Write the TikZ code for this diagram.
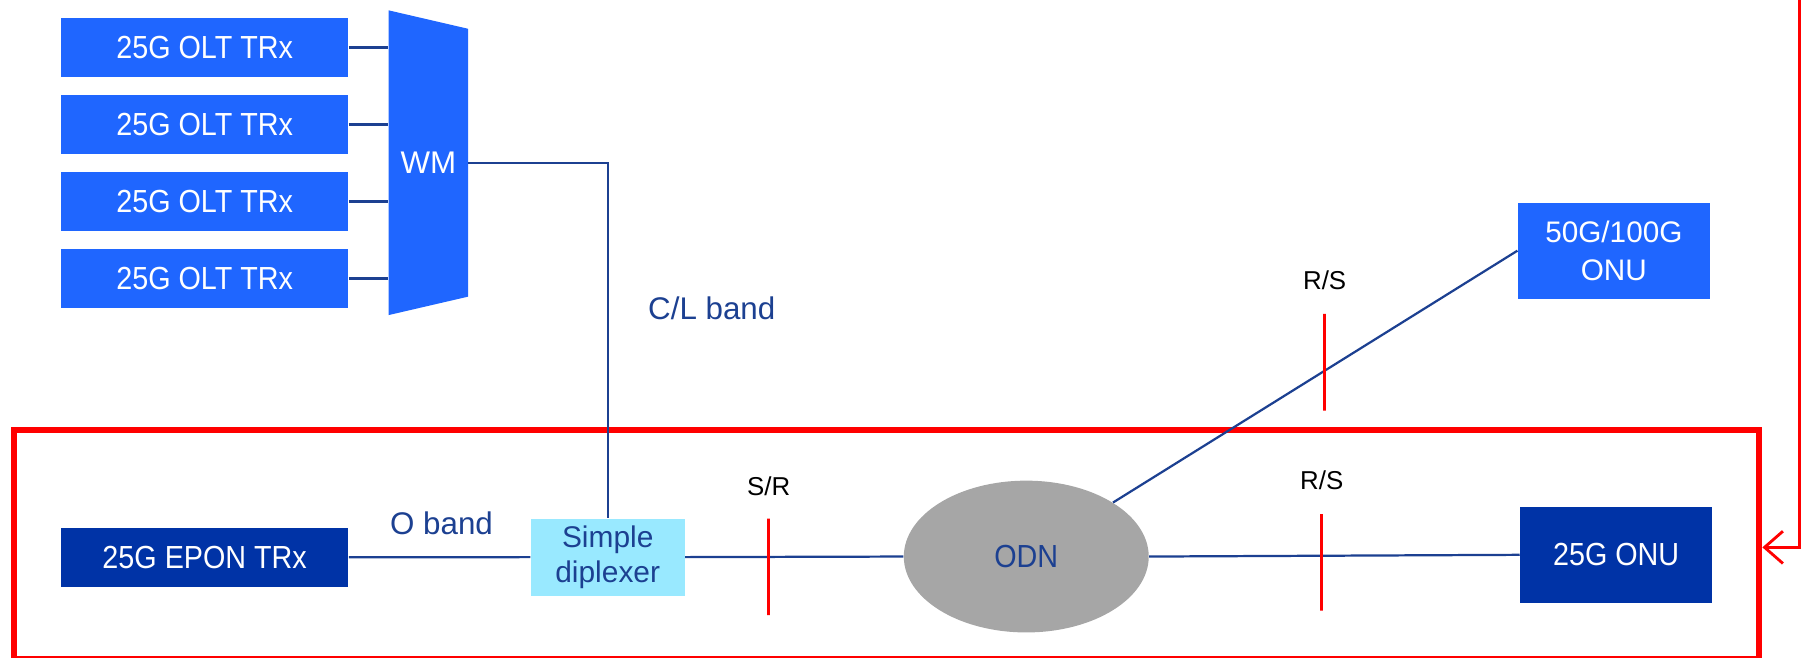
\documentclass[tikz,border=0pt]{standalone}
\usepackage{fontspec}
\setmainfont{Liberation Sans}
\newfontfamily\narrowsans[FakeStretch=0.9]{Liberation Sans}
\usepackage{xcolor}
\usetikzlibrary{positioning,shapes.geometric,arrows.meta}

\definecolor{oltblue}{RGB}{31,102,255}
\definecolor{onunavy}{RGB}{0,51,166}
\definecolor{diplexcyan}{RGB}{153,233,255}
\definecolor{odngray}{RGB}{166,166,166}
\definecolor{fiberblue}{RGB}{28,64,145}

\begin{document}
\begin{tikzpicture}[x=0.2mm, y=-0.2mm,
    bigtext/.style={font=\fontsize{15.5}{18.6}\selectfont},
    narrowtext/.style={font=\narrowsans\fontsize{15.8}{18.6}\selectfont},
    oltbox/.style={narrowtext, fill=oltblue, text=white, inner sep=0pt,
      minimum width=5cm, minimum height=1.03cm},
    navybox/.style={narrowtext, fill=onunavy, text=white, inner sep=0pt},
    fiber/.style={draw=fiberblue, line width=1.1pt},
    band/.style={bigtext, text=fiberblue},
    tick/.style={draw=red, line width=1.6pt, inner sep=0pt,
      minimum width=0pt, minimum height=1.68cm},
    refpoint/.style={font=\fontsize{12.8}{15}\selectfont, inner sep=0pt}]
  \useasboundingbox (0,0) rectangle (1568,572);

  % wavelength multiplexer
  \fill[oltblue] (338,9) -- (407,25) -- (407,258) -- (338,274) -- cycle;
  \node (wm) [bigtext, text=white, inner sep=0pt, minimum width=1.38cm,
    minimum height=5.3cm] at (372.5,141.5) {WM};

  % OLT transceivers
  \foreach \i/\y in {1/41.3,2/108.2,3/175.2,4/242.2} {
    \node (olt\i) [oltbox] at (178,\y) {25G OLT TRx};
    \draw[fiber] (olt\i.east) -- (olt\i.east -| wm.west);
  }

  % coexistence part
  \node (frame) [draw=red, line width=3pt, inner sep=0pt,
    minimum width=30.36cm, minimum height=3.98cm] at (771,473.5) {};
  \node (epon) [navybox, minimum width=5cm, minimum height=1.03cm] at (178,484.7) {25G EPON TRx};
  \node (dip) [fill=diplexcyan, text=fiberblue, inner sep=0pt, align=center,
    font=\fontsize{14.8}{17.6}\selectfont,
    minimum width=2.68cm, minimum height=1.34cm] at (528.5,484.5) {Simple\\diplexer};
  \node (odn) [ellipse, fill=odngray, text=fiberblue, narrowtext,
    minimum width=4.26cm, minimum height=2.64cm] at (892.5,484) {ODN};
  \node (onu25) [navybox, minimum width=3.34cm, minimum height=1.66cm] at (1405.5,482.5) {25G ONU};
  \node (onu50) [fill=oltblue, text=white, inner sep=0pt, align=center,
    font=\fontsize{14.7}{18.6}\selectfont,
    minimum width=3.34cm, minimum height=1.67cm] at (1403.5,218) {50G/100G\\ONU};

  % fibres
  \draw[fiber] (wm.east) -| (dip.north);
  \draw[fiber] (epon.east) -- (dip.west);
  \draw[fiber] (dip.east) -- (odn.west);
  \draw[fiber] (odn.east) -- (onu25.west);
  \draw[fiber] (odn) -- (onu50.west);

  \node (clband) [band] at (619,268) {C/L band};
  \node (oband) [band] at (384,455) {O band};

  % reference points
  \node (srtick) [tick] at (668.5,493) {};
  \node (srlabel) [refpoint, above=0.36cm of srtick] {S/R};
  \node (rstick) [tick] at (1149.5,489) {};
  \node (rslabel) [refpoint, above=0.38cm of rstick] {R/S};
  \node (rsuptick) [tick] at (1152,315) {};
  \node (rsuplabel) [refpoint, above=0.39cm of rsuptick] {R/S};

  % feedback into the coexistence part
  \coordinate (fbtop) at (1565,-5);
  \coordinate (fbbend) at (1565,476);
  \draw[red, line width=1.4pt, -{Straight Barb[length=3.2mm, width=5.6mm]}]
    (fbtop) -- (fbbend) -- (fbbend -| frame.east);
\end{tikzpicture}
\end{document}
